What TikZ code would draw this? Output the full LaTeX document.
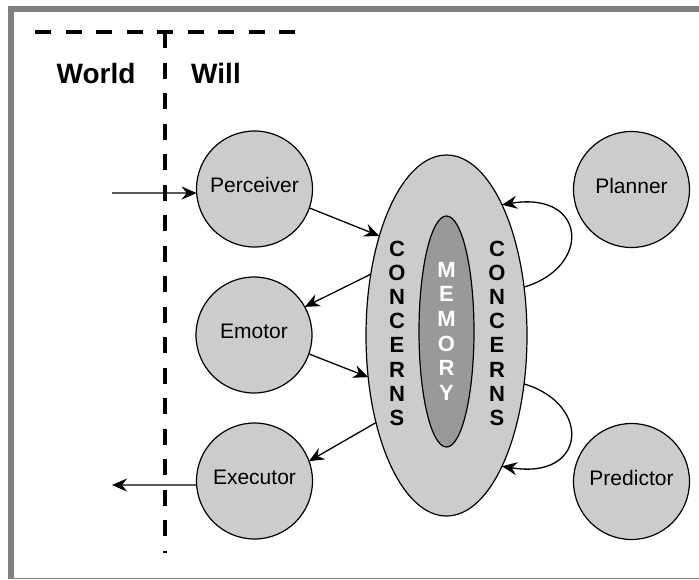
\documentclass[tikz,border=0pt]{standalone}
\usepackage{fontspec}
\setmainfont{Liberation Sans}
\usetikzlibrary{arrows.meta,shapes.geometric}
\definecolor{framegray}{HTML}{808080}
\definecolor{lightfill}{HTML}{CCCCCC}
\definecolor{darkfill}{HTML}{999999}
\begin{document}
\begin{tikzpicture}[x=1pt,y=-1pt,
  agent/.style={circle, draw, line width=1.2pt, fill=lightfill, minimum size=116pt,
    inner sep=0pt, outer sep=0pt, font=\fontsize{21}{25}\selectfont,
    text height=15pt, text depth=8pt},
  blob/.style={ellipse, draw, line width=1.2pt, inner sep=0pt, outer sep=0pt},
  flow/.style={line width=1.3pt, -{Stealth[length=15pt,width=13pt,inset=5pt]}},
  divider/.style={line width=4.5pt, dash pattern=on 16pt off 14.5pt},
  side/.style={font=\fontsize{28}{30}\selectfont\bfseries, anchor=base, inner sep=0pt},
  letter/.style={font=\fontsize{22}{24}\selectfont\bfseries, anchor=base, inner sep=0pt},
]
\useasboundingbox (0,0) rectangle (699,579);

% frame edges
\fill[framegray] (8,6) rectangle (699,12);
\fill[framegray] (8,6) rectangle (14,579);
\fill[framegray] (8,577.5) rectangle (699,579);

% world / will boundary
\draw[divider] (35,32) -- (297,32);
\draw[divider] (165,32) -- (165,553);
\node[side] (world) at (96,83) {World};
\node[side] (will) at (216,83) {Will};

% concerns and memory
\node[blob, fill=lightfill, minimum width=161pt, minimum height=361pt] (concerns) at (446.5,335.5) {};
\node[blob, fill=darkfill, minimum width=55pt, minimum height=231pt] (memory) at (446.5,331.5) {};
\foreach \ch [count=\i from 0] in {C,O,N,C,E,R,N,S} {
  \node[letter] (cl\i) at (397,256+24.2*\i) {\ch};
  \node[letter] (cr\i) at (497,256+24.2*\i) {\ch};
}
\foreach \ch [count=\i from 0] in {M,E,M,O,R,Y}
  \node[letter, text=white] (mem\i) at (446.5,277.3+24.6*\i) {\ch};

% agents
\node[agent] (perceiver) at (254.5,189) {Perceiver};
\node[agent] (emotor) at (254,335) {Emotor};
\node[agent] (executor) at (254.5,481) {Executor};
\node[agent] (planner) at (631.5,189.5) {Planner};
\node[agent] (predictor) at (631.5,481.5) {Predictor};

\coordinate (inWorld) at (112,193);
\coordinate (outWorld) at (112,485);

% connectors
\draw[flow] (inWorld) -- (perceiver.184);
\draw[flow] (perceiver.341) -- (concerns.124);
\draw[flow] (concerns.141) -- (emotor.29);
\draw[flow] (emotor.341) -- (concerns.208);
\draw[flow] (concerns.231) -- (executor.20);
\draw[flow] (executor.184) -- (outWorld);
\draw[flow] (concerns.32) .. controls +(68,-20) and +(85,-14) .. (concerns.67);
\draw[flow] (concerns.328) .. controls +(68,20) and +(85,14) .. (concerns.293);
\end{tikzpicture}
\end{document}
